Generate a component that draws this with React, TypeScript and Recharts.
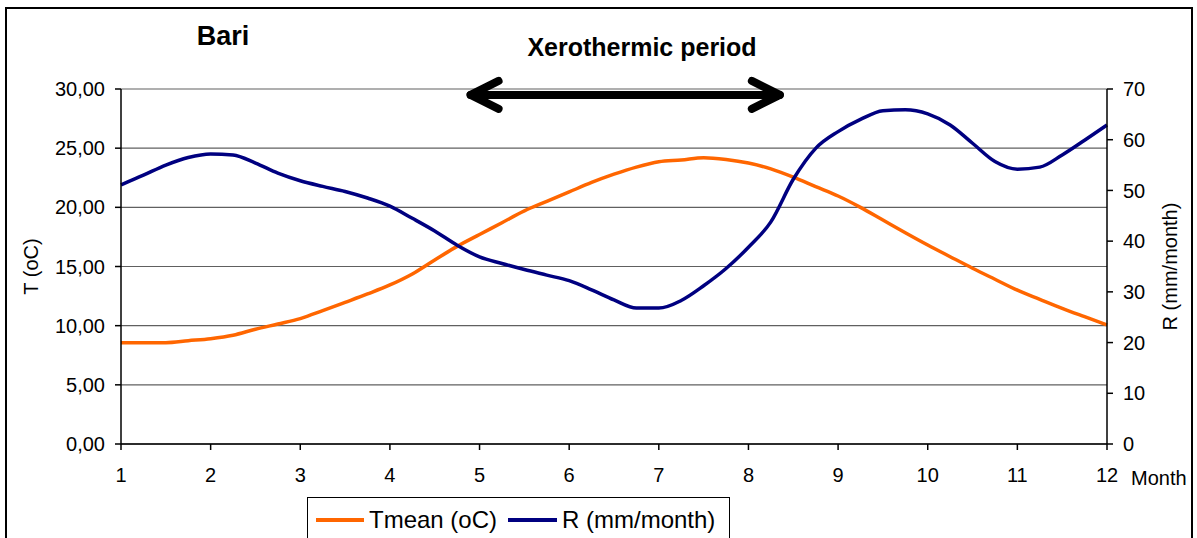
import React from 'react';
import {
  LineChart,
  Line,
  XAxis,
  YAxis,
  CartesianGrid,
  Legend,
  ReferenceLine,
} from 'recharts';

const months = [
  1, 1.25, 1.5, 1.75, 2, 2.25, 2.5, 2.75, 3, 3.25, 3.5, 3.75, 4, 4.25, 4.5, 4.75,
  5, 5.25, 5.5, 5.75, 6, 6.25, 6.5, 6.75, 7, 7.25, 7.5, 7.75, 8, 8.25, 8.5, 8.75,
  9, 9.25, 9.5, 9.75, 10, 10.25, 10.5, 10.75, 11, 11.25, 11.5, 11.75, 12,
];

const tmean = [
  8.55, 8.55, 8.56, 8.73, 8.9, 9.19, 9.7, 10.14, 10.6, 11.27, 11.97, 12.68, 13.44, 14.37, 15.55, 16.7,
  17.7, 18.7, 19.7, 20.5, 21.3, 22.1, 22.8, 23.4, 23.85, 24.0, 24.2, 24.05, 23.75, 23.25, 22.55, 21.75,
  20.96, 20.0, 18.93, 17.86, 16.82, 15.83, 14.85, 13.92, 13.0, 12.23, 11.47, 10.76, 10.06,
];

const rain = [
  51.1, 53.0, 55.0, 56.5, 57.2, 57.0, 55.4, 53.4, 51.9, 50.8, 49.8, 48.5, 46.9, 44.5, 42.0, 39.2,
  36.9, 35.6, 34.4, 33.3, 32.2, 30.4, 28.4, 26.8, 26.8, 28.3, 31.2, 34.6, 38.8, 43.8, 52.2, 58.3,
  61.6, 64.0, 65.7, 65.9, 65.1, 62.9, 59.3, 55.7, 54.2, 54.6, 57.0, 59.9, 62.9,
];

const monthTicks = [1, 2, 3, 4, 5, 6, 7, 8, 9, 10, 11, 12];
const tTicks = [0, 5, 10, 15, 20, 25, 30];
const rTicks = [0, 10, 20, 30, 40, 50, 60, 70];

const seriesNames = { t: 'Tmean (oC)', r: 'R (mm/month)' };
const arrowSpan = { from: 4.9, to: 8.35, level: 29.5 };

const data = months.map((m, i) => ({ month: m, t: tmean[i], r: rain[i] }));

const FONT = '"Liberation Sans", Arial, sans-serif';
const ORANGE = '#FF6600';
const NAVY = '#000080';

const ArrowShape = (props: any) => {
  const { x1, y1, x2, y2 } = props;
  const sw = 8;
  const hx = 28;
  const hy = 14;
  return (
    <g stroke="#000" strokeWidth={sw} strokeLinecap="round" strokeLinejoin="round" fill="none">
      <line x1={x1} y1={y1} x2={x2} y2={y2} />
      <polyline points={`${x1 + hx},${y1 - hy} ${x1},${y1} ${x1 + hx},${y1 + hy}`} />
      <polyline points={`${x2 - hx},${y2 - hy} ${x2},${y2} ${x2 - hx},${y2 + hy}`} />
    </g>
  );
};

const LegendBox = () => (
  <div
    style={{
      position: 'absolute',
      left: 307,
      top: 497,
      width: 423,
      height: 60,
      border: '1px solid #000',
      background: '#fff',
      fontFamily: FONT,
      fontSize: 24,
      color: '#000',
      boxSizing: 'border-box',
    }}
  >
    <div style={{ position: 'absolute', left: 8, top: 20, width: 48, height: 4, background: ORANGE }} />
    <div style={{ position: 'absolute', left: 61, top: 8, whiteSpace: 'nowrap', lineHeight: '28px' }}>{seriesNames.t}</div>
    <div style={{ position: 'absolute', left: 200, top: 20, width: 49, height: 4, background: NAVY }} />
    <div style={{ position: 'absolute', left: 254, top: 8, whiteSpace: 'nowrap', lineHeight: '28px' }}>{seriesNames.r}</div>
  </div>
);

export default function App() {
  return (
    <div
      style={{
        position: 'absolute',
        left: 0,
        top: 0,
        width: 1197,
        height: 538,
        overflow: 'hidden',
        background: '#fff',
        fontFamily: FONT,
      }}
    >
      <div
        style={{
          position: 'absolute',
          left: 5,
          top: 7,
          width: 1188,
          height: 600,
          border: '2px solid #000',
          boxSizing: 'border-box',
        }}
      />
      <div style={{ position: 'absolute', left: 0, top: 0 }}>
        <LineChart
          width={1197}
          height={538}
          data={data}
          margin={{ top: 89, right: 0, bottom: 0, left: 0 }}
          style={{ fontFamily: FONT }}
        >
          <CartesianGrid
            yAxisId="left"
            vertical={false}
            horizontal={true}
            stroke="#606060"
            strokeWidth={1.2}
            horizontalValues={tTicks}
          />
          <XAxis
            dataKey="month"
            type="number"
            domain={[1, 12]}
            ticks={monthTicks}
            height={94}
            tickSize={6}
            tickMargin={18}
            axisLine={{ stroke: '#000', strokeWidth: 1.5 }}
            tickLine={{ stroke: '#000', strokeWidth: 1.5 }}
            tick={{ fill: '#000', fontSize: 20, fontFamily: FONT }}
            interval={0}
            label={{
              content: (p: any) => {
                const vb = p.viewBox;
                return (
                  <text x={vb.x + vb.width + 24} y={485} fontSize={20} fontFamily={FONT} fill="#000">
                    Month
                  </text>
                );
              },
            }}
          />
          <YAxis
            yAxisId="left"
            orientation="left"
            domain={[0, 30]}
            ticks={tTicks}
            width={121}
            tickSize={6}
            tickMargin={10}
            interval={0}
            axisLine={{ stroke: '#000', strokeWidth: 1.5 }}
            tickLine={{ stroke: '#000', strokeWidth: 1.5 }}
            tick={{ fill: '#000', fontSize: 20, fontFamily: FONT }}
            tickFormatter={(v: number) => v.toFixed(2).replace('.', ',')}
            label={{
              content: (p: any) => {
                const vb = p.viewBox;
                const cx = 31;
                const cy = vb.y + vb.height / 2;
                return (
                  <text
                    x={cx}
                    y={cy}
                    transform={`rotate(-90 ${cx} ${cy})`}
                    textAnchor="middle"
                    dominantBaseline="central"
                    fontSize={20}
                    fontFamily={FONT}
                    fill="#000"
                  >
                    T (oC)
                  </text>
                );
              },
            }}
          />
          <YAxis
            yAxisId="right"
            orientation="right"
            domain={[0, 70]}
            ticks={rTicks}
            width={90}
            tickSize={6}
            tickMargin={10}
            interval={0}
            axisLine={{ stroke: '#000', strokeWidth: 1.5 }}
            tickLine={{ stroke: '#000', strokeWidth: 1.5 }}
            tick={{ fill: '#000', fontSize: 20, fontFamily: FONT }}
            label={{
              content: (p: any) => {
                const vb = p.viewBox;
                const cx = 1170;
                const cy = vb.y + vb.height / 2;
                return (
                  <text
                    x={cx}
                    y={cy}
                    transform={`rotate(-90 ${cx} ${cy})`}
                    textAnchor="middle"
                    dominantBaseline="central"
                    fontSize={20}
                    fontFamily={FONT}
                    fill="#000"
                  >
                    R (mm/month)
                  </text>
                );
              },
            }}
          />
          <Line
            yAxisId="left"
            type="monotone"
            dataKey="t"
            name={seriesNames.t}
            stroke={ORANGE}
            strokeWidth={3.5}
            dot={false}
            activeDot={false}
            isAnimationActive={false}
          />
          <Line
            yAxisId="right"
            type="monotone"
            dataKey="r"
            name={seriesNames.r}
            stroke={NAVY}
            strokeWidth={3.5}
            dot={false}
            activeDot={false}
            isAnimationActive={false}
          />
          <ReferenceLine
            yAxisId="left"
            segment={[
              { x: arrowSpan.from, y: arrowSpan.level },
              { x: arrowSpan.to, y: arrowSpan.level },
            ]}
            ifOverflow="visible"
            shape={ArrowShape}
          />
          <Legend content={() => <LegendBox />} wrapperStyle={{ position: 'absolute', left: 0, top: 0, width: 0, height: 0 }} />
        </LineChart>
      </div>
      <svg
        width={1197}
        height={538}
        style={{ position: 'absolute', left: 0, top: 0, pointerEvents: 'none' }}
      >
        <text x={223} y={45} textAnchor="middle" fontSize={27} fontWeight="bold" fontFamily={FONT} fill="#000">
          Bari
        </text>
        <text x={642} y={56} textAnchor="middle" fontSize={25} fontWeight="bold" fontFamily={FONT} fill="#000">
          Xerothermic period
        </text>
      </svg>
    </div>
  );
}
